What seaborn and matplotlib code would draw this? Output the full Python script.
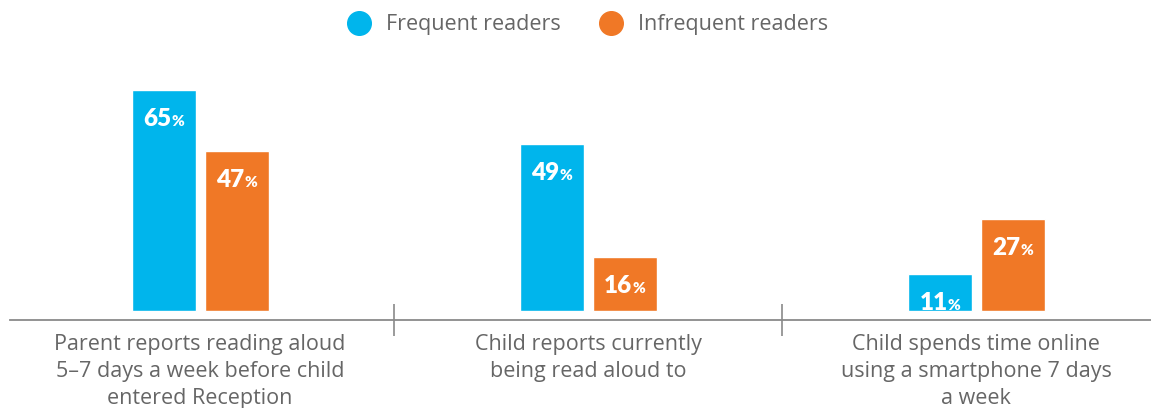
import matplotlib
matplotlib.use("Agg")
import matplotlib.pyplot as plt
import seaborn as sns
import pandas as pd
from matplotlib.lines import Line2D

categories = ["Parent reports reading aloud\n5\u20137 days a week before child\nentered Reception",
              "Child reports currently\nbeing read aloud to",
              "Child spends time online\nusing a smartphone 7 days\na week"]
series_names = ["Frequent readers", "Infrequent readers"]
frequent = [65, 49, 11]
infrequent = [47, 16, 27]
colors = ["#00b5ec", "#f07826"]

sns.set_theme(style="white")
plt.rcParams['font.family'] = ['Open Sans', 'DejaVu Sans']

rows = []
for c, f, i in zip(categories, frequent, infrequent):
    rows.append({"cat": c, "series": series_names[0], "val": f})
    rows.append({"cat": c, "series": series_names[1], "val": i})
df = pd.DataFrame(rows)

fig = plt.figure(figsize=(11.51, 4.08), dpi=100)
ax = fig.add_axes([10/1151, 88/408, 1 - 10/1151, 247/408])
sns.barplot(data=df, x="cat", y="val", hue="series", palette=colors,
            width=0.376, gap=0.12, ax=ax, legend=False, saturation=1)

ax.set_xlim(-0.49, 2.45)
ax.set_ylim(-2.65, 70)
ax.set_ylabel("")
ax.set_xlabel("")
ax.set_yticks([])
for s in ["top", "right", "left"]:
    ax.spines[s].set_visible(False)
ax.spines["bottom"].set_color("#8a8a8a")
ax.spines["bottom"].set_linewidth(1.3)
ax.set_xticks(range(len(categories)))
ax.set_xticklabels(categories, fontsize=15.5, color="#666666", linespacing=1.38)
ax.tick_params(axis="x", which="major", length=0, pad=10)
ax.set_xticks([0.5, 1.5], minor=True)
ax.tick_params(axis="x", which="minor", bottom=True, direction="inout", length=23,
               width=1.2, color="#8a8a8a")

fig.canvas.draw()
renderer = fig.canvas.get_renderer()
NUM_FS, PCT_FS = 17.5, 11
for patch in ax.patches:
    h = patch.get_height()
    if h <= 0:
        continue
    xc = patch.get_x() + patch.get_width() / 2
    lbl = f"{int(round(h))}"
    num = ax.text(0, 0, lbl, fontsize=NUM_FS, fontweight="heavy", color="white", family="Lato")
    pct = ax.text(0, 0, "%", fontsize=PCT_FS, fontweight="heavy", color="white", family="Lato")
    wn = num.get_window_extent(renderer).width
    wp = pct.get_window_extent(renderer).width
    num.remove(); pct.remove()
    total = wn + wp
    ax.annotate(lbl, xy=(xc, h), xytext=(-total / 2 * 0.72, -36 * 0.72),
                textcoords="offset points", ha="left", va="baseline",
                fontsize=NUM_FS, fontweight="heavy", color="white", family="Lato")
    ax.annotate("%", xy=(xc, h), xytext=((-total / 2 + wn) * 0.72, -36 * 0.72),
                textcoords="offset points", ha="left", va="baseline",
                fontsize=PCT_FS, fontweight="heavy", color="white", family="Lato")

handles = [Line2D([0], [0], marker="o", linestyle="", markersize=17,
                  markerfacecolor=c, markeredgecolor=c) for c in colors]
fig.legend(handles, series_names, loc="upper center", bbox_to_anchor=(0.5065, 1.013),
           ncol=2, frameon=False, fontsize=15.5, labelcolor="#666666",
           handletextpad=0.25, columnspacing=1.35)

fig.savefig("out.png", dpi=100)
